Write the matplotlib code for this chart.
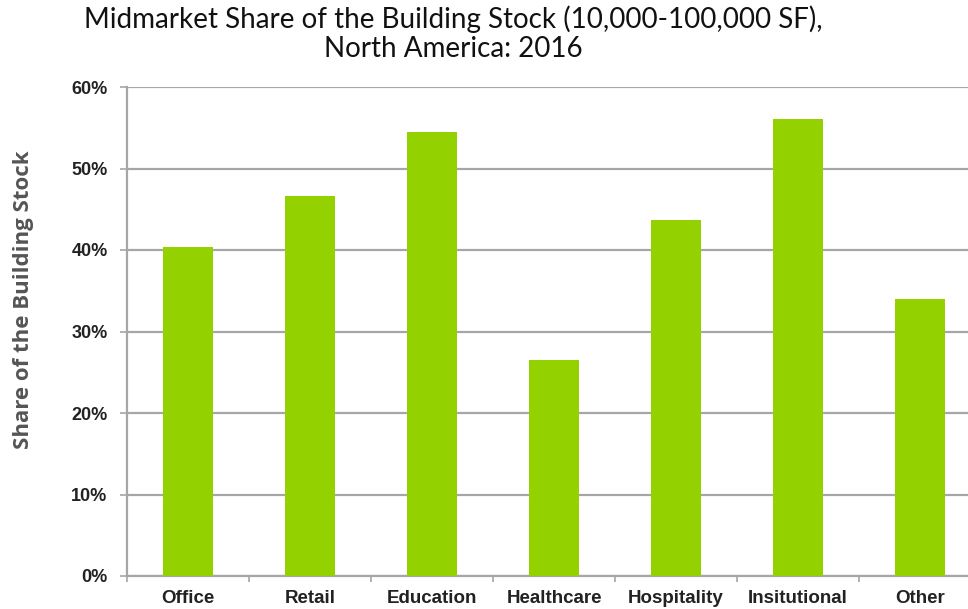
import numpy as np
import matplotlib.pyplot as plt
from matplotlib.ticker import FixedLocator

# 各类建筑的中型市场占比
categories = ['Office', 'Retail', 'Education', 'Healthcare', 'Hospitality', 'Insitutional', 'Other']
shares = [40.4, 46.6, 54.5, 26.5, 43.7, 56.1, 34.0]
yticks = [0, 10, 20, 30, 40, 50, 60]

bar_color = '#94d100'
grid_color = '#a6a6a6'

fig = plt.figure(figsize=(9.68, 6.09), dpi=100)
ax = fig.add_axes([127/968, 1-576/609, 854/968, 489/609])

x = np.arange(len(categories))
ax.bar(x, shares, width=0.41, color=bar_color, zorder=3)

ax.set_xlim(-0.5, len(categories) - 0.5)
ax.set_ylim(0, 60)
ax.set_yticks(yticks)
ax.set_yticklabels([f'{v}%' for v in yticks], fontsize=13, fontweight='bold',
                   family='Liberation Sans', color='#222222')
ax.yaxis.grid(True, color=grid_color, linewidth=1.6, zorder=0)

# 类别标签放在中间，刻度线画在类别之间
ax.set_xticks(x)
ax.set_xticklabels(categories, fontsize=13.5, fontweight='bold',
                   family='Liberation Sans', color='#222222')
ax.tick_params(axis='x', length=0, pad=10)
ax.xaxis.set_minor_locator(FixedLocator(np.arange(-0.5, len(categories), 1.0)))
ax.tick_params(axis='x', which='minor', length=4, color=grid_color, width=1.2)
ax.tick_params(axis='y', length=5, color=grid_color, width=1.2, pad=9)

for s in ['top', 'right']:
    ax.spines[s].set_visible(False)
for s in ['left', 'bottom']:
    ax.spines[s].set_color(grid_color)
    ax.spines[s].set_linewidth(1.6)

fig.text(24/968, 1-300/609, 'Share of the Building Stock', rotation=90,
         ha='center', va='center', fontsize=16, fontweight='bold',
         family='Open Sans', color='#555555')

fig.text(453/968, 1-19/609, 'Midmarket Share of the Building Stock (10,000-100,000 SF),',
         ha='center', va='center', fontsize=20, family='Lato', color='#111111')
fig.text(453/968, 1-49/609, 'North America: 2016',
         ha='center', va='center', fontsize=20, family='Lato', color='#111111')

fig.savefig('out.png', dpi=100)
